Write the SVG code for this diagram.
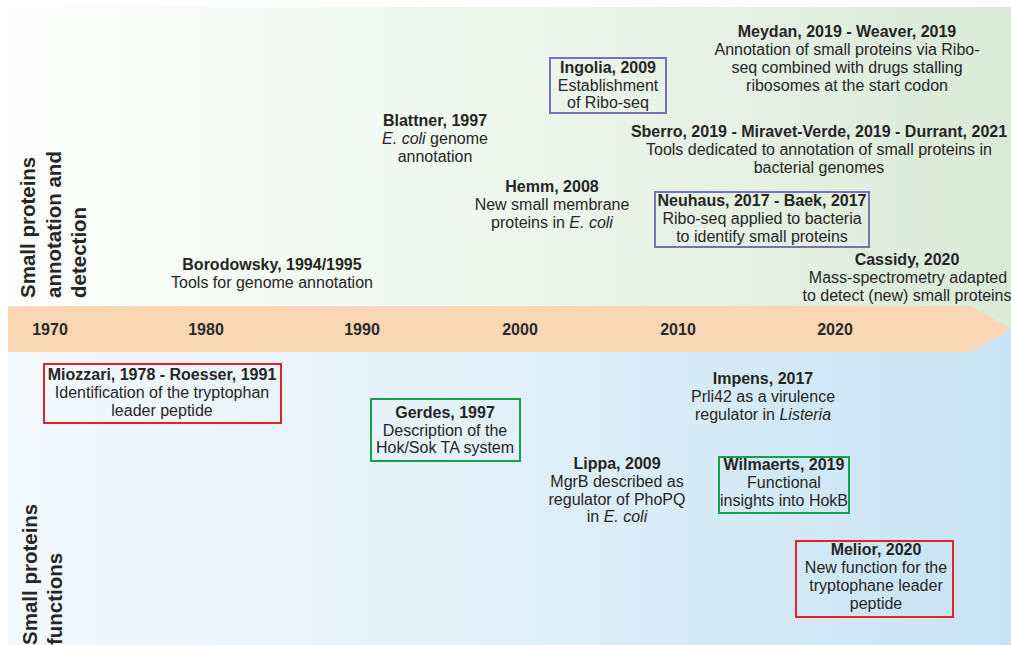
<svg xmlns="http://www.w3.org/2000/svg" width="1011" height="645" viewBox="0 0 1011 645">
<defs>
<linearGradient id="gTop" x1="0" y1="0" x2="1" y2="0">
<stop offset="0" stop-color="#fcfdfc"/>
<stop offset="0.5" stop-color="#eef6ee"/>
<stop offset="1" stop-color="#d9ebd6"/>
</linearGradient>
<linearGradient id="gBot" x1="0" y1="0" x2="1" y2="0">
<stop offset="0" stop-color="#f4f9fd"/>
<stop offset="0.5" stop-color="#e1f0f9"/>
<stop offset="1" stop-color="#c7e3f3"/>
</linearGradient>
<style>
text{font-family:"Liberation Sans",Arial,sans-serif;font-size:16px;fill:#262626;text-anchor:middle}
.b{font-weight:bold}
.i{font-style:italic}
.yr{font-weight:bold;font-size:16px;fill:#2a2a2a}
.side{font-weight:bold;font-size:20.5px;text-anchor:start;fill:#262626}
.box{fill:none;stroke-width:2}
.pu{stroke:#7c6fb6}
.gr{stroke:#17a04b}
.rd{stroke:#e8202a}
</style>
</defs>
<g id="background">
<rect x="8" y="7" width="1003" height="322" fill="url(#gTop)"/>
<rect x="8" y="329" width="1003" height="316" fill="url(#gBot)"/>
</g>
<g id="timeline">
<polygon points="8,306 971,306 1011,329 971,352 8,352" fill="#f9d6b4"/>
<text class="yr" x="50" y="335">1970</text>
<text class="yr" x="206" y="335">1980</text>
<text class="yr" x="362" y="335">1990</text>
<text class="yr" x="520" y="335">2000</text>
<text class="yr" x="678" y="335">2010</text>
<text class="yr" x="835" y="335">2020</text>
</g>
<g id="label-top">
<text class="side" transform="translate(35,298) rotate(-90)"><tspan x="0" y="0">Small proteins</tspan><tspan x="0" y="26">annotation and</tspan><tspan x="0" y="51">detection</tspan></text>
</g>
<g id="label-bottom">
<text class="side" transform="translate(37,645) rotate(-90)"><tspan x="0" y="0">Small proteins</tspan><tspan x="0" y="25">functions</tspan></text>
</g>
<g id="connectors"></g>
<g id="borodowsky">
<text x="272" y="270"><tspan class="b">Borodowsky, 1994/1995</tspan><tspan x="272" y="288">Tools for genome annotation</tspan></text>
</g>
<g id="blattner">
<text x="435" y="126"><tspan class="b">Blattner, 1997</tspan><tspan x="435" y="144"><tspan class="i">E. coli</tspan> genome</tspan><tspan x="435" y="162">annotation</tspan></text>
</g>
<g id="ingolia">
<rect class="box pu" x="550" y="58" width="116" height="55"/>
<text x="608" y="73"><tspan class="b">Ingolia, 2009</tspan><tspan x="608" y="91">Establishment</tspan><tspan x="608" y="108">of Ribo-seq</tspan></text>
</g>
<g id="hemm">
<text x="552" y="192"><tspan class="b">Hemm, 2008</tspan><tspan x="552" y="210">New small membrane</tspan><tspan x="552" y="228">proteins in <tspan class="i">E. coli</tspan></tspan></text>
</g>
<g id="meydan">
<text x="847" y="37"><tspan class="b">Meydan, 2019 - Weaver, 2019</tspan><tspan x="847" y="55">Annotation of small proteins via Ribo-</tspan><tspan x="847" y="73">seq combined with drugs stalling</tspan><tspan x="847" y="91">ribosomes at the start codon</tspan></text>
</g>
<g id="sberro">
<text x="819" y="137"><tspan class="b">Sberro, 2019 - Miravet-Verde, 2019 - Durrant, 2021</tspan><tspan x="819" y="155">Tools dedicated to annotation of small proteins in</tspan><tspan x="819" y="173">bacterial genomes</tspan></text>
</g>
<g id="neuhaus">
<rect class="box pu" x="655" y="192" width="214" height="55"/>
<text x="762" y="206"><tspan class="b">Neuhaus, 2017 - Baek, 2017</tspan><tspan x="762" y="224">Ribo-seq applied to bacteria</tspan><tspan x="762" y="242">to identify small proteins</tspan></text>
</g>
<g id="cassidy">
<text x="907" y="265"><tspan class="b">Cassidy, 2020</tspan><tspan x="908" y="283">Mass-spectrometry adapted</tspan><tspan x="907" y="301">to detect (new) small proteins</tspan></text>
</g>
<g id="miozzari">
<rect class="box rd" x="44" y="364" width="237" height="59"/>
<text x="162" y="380"><tspan class="b">Miozzari, 1978 - Roesser, 1991</tspan><tspan x="162" y="398">Identification of the tryptophan</tspan><tspan x="162" y="416">leader peptide</tspan></text>
</g>
<g id="gerdes">
<rect class="box gr" x="371" y="399" width="149" height="62"/>
<text x="445" y="418"><tspan class="b">Gerdes, 1997</tspan><tspan x="445" y="436">Description of the</tspan><tspan x="445" y="453">Hok/Sok TA system</tspan></text>
</g>
<g id="impens">
<text x="763" y="384"><tspan class="b">Impens, 2017</tspan><tspan x="763" y="402">Prli42 as a virulence</tspan><tspan x="763" y="420">regulator in <tspan class="i">Listeria</tspan></tspan></text>
</g>
<g id="lippa">
<text x="617" y="469"><tspan class="b">Lippa, 2009</tspan><tspan x="617" y="487">MgrB described as</tspan><tspan x="617" y="505">regulator of PhoPQ</tspan><tspan x="617" y="522">in <tspan class="i">E. coli</tspan></tspan></text>
</g>
<g id="wilmaerts">
<rect class="box gr" x="719" y="457" width="130" height="56"/>
<text x="784" y="470"><tspan class="b">Wilmaerts, 2019</tspan><tspan x="784" y="488">Functional</tspan><tspan x="784" y="506">insights into HokB</tspan></text>
</g>
<g id="melior">
<rect class="box rd" x="796" y="541" width="157" height="76"/>
<text x="876" y="555"><tspan class="b">Melior, 2020</tspan><tspan x="876" y="573">New function for the</tspan><tspan x="876" y="591">tryptophane leader</tspan><tspan x="876" y="609">peptide</tspan></text>
</g>
</svg>
